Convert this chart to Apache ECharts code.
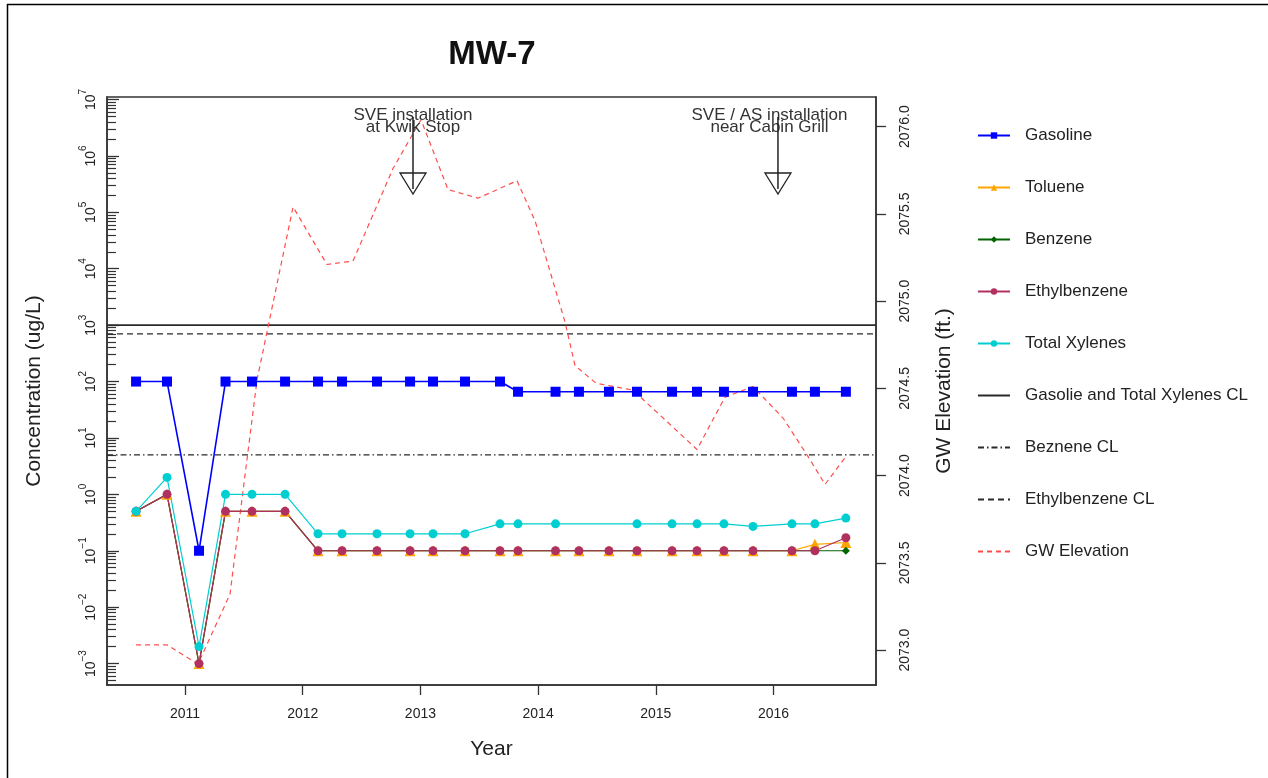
<!DOCTYPE html>
<html>
<head>
<meta charset="utf-8">
<title>MW-7</title>
<script src="https://cdn.jsdelivr.net/npm/echarts@6/dist/echarts.min.js"></script>
<style>
  html, body { margin: 0; padding: 0; background: #fff; }
  #chart { width: 1268px; height: 778px; }
</style>
</head>
<body>
<div id="chart"></div>
<script>
// sampling dates (decimal years)
const sampleDates = [2010.584, 2010.847, 2011.119, 2011.344, 2011.569, 2011.850, 2012.130, 2012.334,
  2012.631, 2012.912, 2013.107, 2013.379, 2013.676, 2013.829, 2014.148, 2014.347, 2014.602, 2014.840,
  2015.138, 2015.350, 2015.579, 2015.826, 2016.157, 2016.352, 2016.615];

// concentrations, ug/L
const gasoline = [100, 100, 0.1, 100, 100, 100, 100, 100, 100, 100, 100, 100, 100,
  66, 66, 66, 66, 66, 66, 66, 66, 66, 66, 66, 66];
const toluene = [0.5, 1, 0.001, 0.5, 0.5, 0.5, 0.1, 0.1, 0.1, 0.1, 0.1, 0.1, 0.1,
  0.1, 0.1, 0.1, 0.1, 0.1, 0.1, 0.1, 0.1, 0.1, 0.1, 0.13, 0.14];
const benzene = [0.5, 1, 0.001, 0.5, 0.5, 0.5, 0.1, 0.1, 0.1, 0.1, 0.1, 0.1, 0.1,
  0.1, 0.1, 0.1, 0.1, 0.1, 0.1, 0.1, 0.1, 0.1, 0.1, 0.1, 0.1];
const ethylbenzene = [0.5, 1, 0.001, 0.5, 0.5, 0.5, 0.1, 0.1, 0.1, 0.1, 0.1, 0.1, 0.1,
  0.1, 0.1, 0.1, 0.1, 0.1, 0.1, 0.1, 0.1, 0.1, 0.1, 0.1, 0.17];
const totalXylenes = [0.5, 2, 0.002, 1, 1, 1, 0.2, 0.2, 0.2, 0.2, 0.2, 0.2, 0.3,
  0.3, 0.3, null, null, 0.3, 0.3, 0.3, 0.3, 0.27, 0.3, 0.3, 0.38];

// cleanup levels, ug/L
const gasolineXylenesCL = 1000;
const benzeneCL = 5;
const ethylbenzeneCL = 700;

// groundwater elevation, ft
const gwDates = [2010.584, 2010.847, 2011.110, 2011.382, 2011.612, 2011.918, 2012.206, 2012.427,
  2012.767, 2013.005, 2013.234, 2013.489, 2013.821, 2013.974, 2014.229, 2014.314, 2014.492, 2014.806,
  2015.350, 2015.588, 2015.826, 2016.081, 2016.293, 2016.438, 2016.616];
const gwElevation = [2073.03, 2073.03, 2072.92, 2073.32, 2074.55, 2075.54, 2075.21, 2075.23,
  2075.76, 2076.04, 2075.64, 2075.59, 2075.69, 2075.46, 2074.88, 2074.63, 2074.53, 2074.49,
  2074.15, 2074.45, 2074.51, 2074.33, 2074.11, 2073.95, 2074.11];

// remediation events
const eventDates = [2012.937, 2016.038];
const eventTextDates = [2012.937, 2015.966];
const eventLabels = ['SVE installation\nat Kwik Stop', 'SVE / AS installation\nnear Cabin Grill'];

// tick labels
const yearTicks = [2011, 2012, 2013, 2014, 2015, 2016];
const decadeTicks = [-3, -2, -1, 0, 1, 2, 3, 4, 5, 6, 7];
const gwTicks = [2073.0, 2073.5, 2074.0, 2074.5, 2075.0, 2075.5, 2076.0];

const xMin = 2010.337, xMax = 2016.871;
const logMin = -3.38, logMax = 7.045;
const font = '"Liberation Sans", Arial, sans-serif';

let minorTicks = [];
for (let e = -4; e <= 7; e++) {
  for (let k = 2; k <= 9; k++) minorTicks.push(e + Math.log10(k));
}

const toLog = values => sampleDates.map((d, i) => [d, values[i] == null ? null : Math.log10(values[i])]);
const clLine = v => [[xMin, Math.log10(v)], [xMax, Math.log10(v)]];

let chart = echarts.init(document.getElementById('chart'));

const pointSeries = (name, values, symbol, size, color, width) => ({
  name: name,
  type: 'line',
  yAxisIndex: 0,
  data: toLog(values),
  symbol: symbol,
  symbolSize: size,
  showAllSymbol: true,
  connectNulls: true,
  itemStyle: { color: color },
  lineStyle: { color: color, width: width || 1.2 },
  emphasis: { disabled: true },
  z: 3
});

const refSeries = (name, value, type, width) => ({
  name: name,
  type: 'line',
  yAxisIndex: 0,
  data: clLine(value),
  symbol: 'none',
  itemStyle: { color: '#2a2a2a' },
  lineStyle: { color: '#2a2a2a', width: width, type: type },
  emphasis: { disabled: true },
  z: 2
});

// legend entries for plain lines get no marker
const plainLine = name => ({ name: name, itemStyle: { opacity: 0 } });

chart.setOption({
  animation: false,
  textStyle: { fontFamily: font },
  title: {
    text: 'MW-7',
    left: 487,
    top: 33,
    textAlign: 'center',
    textStyle: { fontSize: 33, fontWeight: 'bold', color: '#111', fontFamily: font }
  },
  graphic: [
    { type: 'line', shape: { x1: 7.5, y1: 4, x2: 7.5, y2: 778 }, style: { stroke: '#000', lineWidth: 1.5 } },
    { type: 'line', shape: { x1: 7, y1: 4.5, x2: 1268, y2: 4.5 }, style: { stroke: '#000', lineWidth: 1.5 } }
  ],
  legend: {
    orient: 'vertical',
    left: 972,
    top: 122,
    itemWidth: 32,
    itemHeight: 8,
    itemGap: 35,
    data: ['Gasoline', 'Toluene', 'Benzene', 'Ethylbenzene', 'Total Xylenes',
      plainLine('Gasolie and Total Xylenes CL'), plainLine('Beznene CL'),
      plainLine('Ethylbenzene CL'), plainLine('GW Elevation')],
    textStyle: { fontSize: 17, color: '#222', fontFamily: font, padding: [0, 0, 0, 10] },
    selectedMode: false
  },
  grid: {
    left: 107, right: 392, top: 97, bottom: 93,
    show: true, borderColor: '#333', borderWidth: 1.5
  },
  xAxis: {
    type: 'value',
    min: xMin,
    max: xMax,
    name: 'Year',
    nameLocation: 'middle',
    nameGap: 54,
    nameTextStyle: { fontSize: 21, color: '#222' },
    axisLine: { onZero: false, lineStyle: { color: '#333', width: 1.5 } },
    axisTick: { customValues: yearTicks, length: 10, lineStyle: { color: '#333', width: 1.3 } },
    axisLabel: { customValues: yearTicks, fontSize: 14, color: '#222', margin: 22, formatter: v => String(v) },
    splitLine: { show: false }
  },
  yAxis: [
    {
      type: 'value',
      position: 'left',
      min: logMin,
      max: logMax,
      name: 'Concentration (ug/L)',
      nameLocation: 'middle',
      nameGap: 62,
      nameTextStyle: { fontSize: 21, color: '#222' },
      axisLine: { show: true, onZero: false, lineStyle: { color: '#333', width: 1.5 } },
      axisTick: { inside: true, customValues: decadeTicks, length: 12, lineStyle: { color: '#333', width: 1.3 } },
      axisLabel: {
        customValues: decadeTicks,
        rotate: 90,
        margin: 9,
        formatter: v => '{b|10}{s|' + String(Math.round(v)).replace('-', '\u2212') + '}',
        rich: {
          b: { fontSize: 14, color: '#222', verticalAlign: 'bottom', lineHeight: 20 },
          s: { fontSize: 10, color: '#222', verticalAlign: 'top', lineHeight: 10 }
        }
      },
      splitLine: { show: false }
    },
    {
      type: 'value',
      position: 'left',
      min: logMin,
      max: logMax,
      axisLine: { show: false, onZero: false },
      axisTick: { inside: true, customValues: minorTicks, length: 9, lineStyle: { color: '#333', width: 1.2 } },
      axisLabel: { show: false },
      splitLine: { show: false }
    },
    {
      type: 'value',
      position: 'right',
      min: 2072.80,
      max: 2076.17,
      name: 'GW Elevation (ft.)',
      nameLocation: 'middle',
      nameRotate: 90,
      nameGap: 58,
      nameTextStyle: { fontSize: 21, color: '#222' },
      axisLine: { show: true, onZero: false, lineStyle: { color: '#333', width: 1.5 } },
      axisTick: { customValues: gwTicks, length: 10, lineStyle: { color: '#333', width: 1.3 } },
      axisLabel: { customValues: gwTicks, rotate: 90, fontSize: 14, color: '#222', margin: 22, formatter: v => v.toFixed(1) },
      splitLine: { show: false }
    }
  ],
  series: [
    pointSeries('Gasoline', gasoline, 'rect', 10, '#0000FF', 1.6),
    pointSeries('Toluene', toluene, 'triangle', 11, '#FFA500'),
    pointSeries('Benzene', benzene, 'diamond', 8, '#006400'),
    pointSeries('Ethylbenzene', ethylbenzene, 'circle', 9, '#B03060'),
    pointSeries('Total Xylenes', totalXylenes, 'circle', 9, '#00CED1'),
    refSeries('Gasolie and Total Xylenes CL', gasolineXylenesCL, 'solid', 1.6),
    refSeries('Beznene CL', benzeneCL, [6, 3, 1.5, 3], 1.3),
    refSeries('Ethylbenzene CL', ethylbenzeneCL, [6, 4], 1.3),
    {
      name: 'GW Elevation',
      type: 'line',
      yAxisIndex: 2,
      data: gwDates.map((d, i) => [d, gwElevation[i]]),
      symbol: 'none',
      itemStyle: { color: '#FF4D4D' },
      lineStyle: { color: '#FF4D4D', width: 1.2, type: [5, 4] },
      emphasis: { disabled: true },
      z: 2
    },
    {
      name: 'events',
      type: 'custom',
      yAxisIndex: 0,
      data: eventDates.map((d, i) => [d, logMax, eventTextDates[i]]),
      renderItem: function (params, api) {
        let top = params.coordSys.y;
        let x = api.coord([api.value(0), api.value(1)])[0];
        let tx = api.coord([api.value(2), api.value(1)])[0];
        return {
          type: 'group',
          children: [
            {
              type: 'text',
              style: {
                text: eventLabels[params.dataIndex],
                x: tx, y: top + 12,
                align: 'center', verticalAlign: 'top',
                font: '17px ' + font, lineHeight: 12, fill: '#333'
              }
            },
            { type: 'line', shape: { x1: x, y1: top + 20, x2: x, y2: top + 92 }, style: { stroke: '#222', lineWidth: 1.5 } },
            {
              type: 'polygon',
              shape: { points: [[x - 13, top + 76], [x + 13, top + 76], [x, top + 97]] },
              style: { fill: 'none', stroke: '#222', lineWidth: 1.3 }
            }
          ]
        };
      },
      silent: true,
      z: 4
    }
  ]
});
</script>
</body>
</html>
